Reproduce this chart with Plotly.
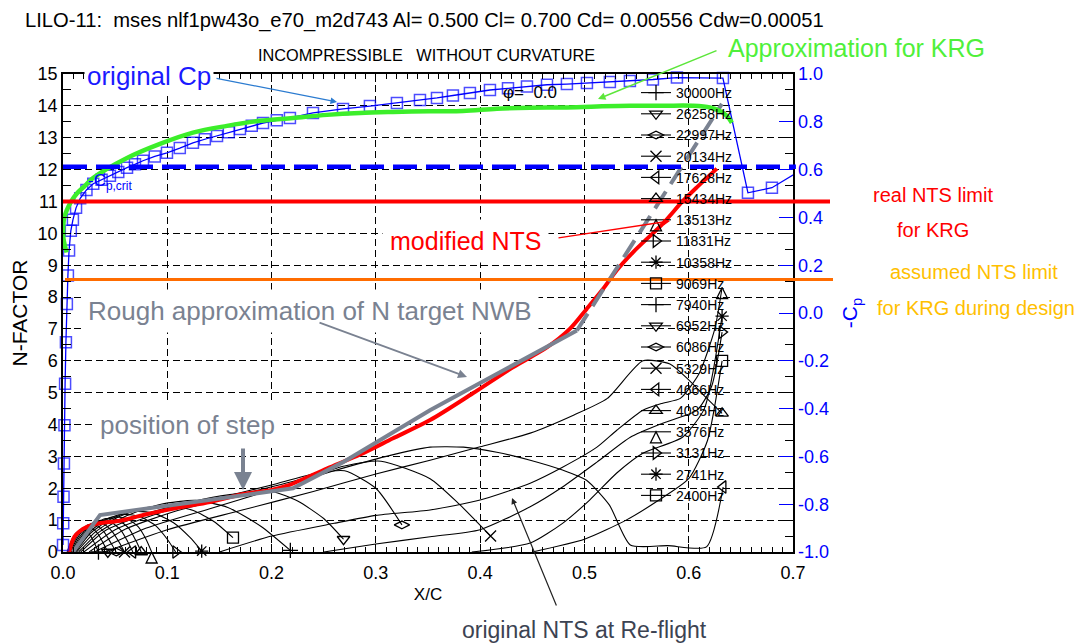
import plotly.graph_objects as go

# ---------------- data ----------------
X_RANGE = [0.0, 0.7]
N_RANGE = [0.0, 15.0]
CP_RANGE = [-1.0, 1.0]

x_tickvals = [0.0, 0.1, 0.2, 0.3, 0.4, 0.5, 0.6, 0.7]
x_ticktext = ["0.0", "0.1", "0.2", "0.3", "0.4", "0.5", "0.6", "0.7"]
n_tickvals = list(range(0, 16))
cp_tickvals = [-1.0, -0.8, -0.6, -0.4, -0.2, 0.0, 0.2, 0.4, 0.6, 0.8, 1.0]
cp_ticktext = ["-1.0", "-0.8", "-0.6", "-0.4", "-0.2", "0.0", "0.2", "0.4", "0.6", "0.8", "1.0"]

# original Cp (upper surface), plotted as -Cp on the right axis
cp_x = [0.0, 0.0002, 0.0005, 0.0009, 0.0014, 0.002, 0.0028, 0.0037, 0.0047, 0.0058, 0.0075, 0.0095,
        0.0125, 0.0165, 0.0225, 0.029, 0.037, 0.045, 0.053, 0.0614, 0.069, 0.0767, 0.088, 0.0997,
        0.112, 0.1246, 0.136, 0.1477, 0.159, 0.1697, 0.181, 0.1918, 0.205, 0.2176, 0.2397, 0.2685,
        0.2943, 0.3202, 0.3423, 0.3586, 0.3739, 0.3902, 0.4094, 0.4267, 0.4449, 0.4641, 0.4832,
        0.5024, 0.5244, 0.5436, 0.5657, 0.5887, 0.6328, 0.6568, 0.6798, 0.705]
cp_mcp = [-0.971, -0.880, -0.769, -0.630, -0.470, -0.296, -0.122, 0.038, 0.157, 0.261, 0.344, 0.39,
          0.44, 0.48, 0.515, 0.541, 0.558, 0.574, 0.59, 0.608, 0.622, 0.637, 0.655, 0.670,
          0.69, 0.712, 0.727, 0.741, 0.756, 0.770, 0.783, 0.795, 0.806, 0.816, 0.837, 0.854,
          0.866, 0.879, 0.891, 0.900, 0.91, 0.921, 0.933, 0.940, 0.948, 0.955, 0.958,
          0.962, 0.967, 0.971, 0.977, 0.985, 0.983, 0.503, 0.524, 0.59]
cp_crit = 0.612

# approximation for KRG (-Cp)
krg_x = [0.0035, 0.0005, 0.0002, 0.001, 0.0035, 0.0077, 0.0131, 0.021, 0.0288, 0.0614, 0.093,
         0.1246, 0.1572, 0.1889, 0.2205, 0.2531, 0.2848, 0.3164, 0.3519, 0.3835, 0.4161, 0.4477,
         0.4794, 0.512, 0.5436, 0.5753, 0.604, 0.6203, 0.6299, 0.6366, 0.6414]
krg_mcp = [0.253, 0.311, 0.353, 0.395, 0.428, 0.466, 0.499, 0.532, 0.565, 0.649, 0.708,
           0.755, 0.783, 0.804, 0.816, 0.829, 0.837, 0.841, 0.844, 0.845, 0.855, 0.859,
           0.86, 0.864, 0.867, 0.867, 0.867, 0.86, 0.845, 0.825, 0.796]

# modified NTS (N-factor)
mod_x = [0.006, 0.008, 0.011, 0.016, 0.023, 0.035, 0.055, 0.077, 0.109, 0.141, 0.173, 0.199,
         0.215, 0.227, 0.253, 0.285, 0.316, 0.352, 0.393, 0.431, 0.464, 0.486, 0.502, 0.518,
         0.531, 0.547, 0.575, 0.594, 0.608, 0.627]
mod_n = [0.0, 0.25, 0.48, 0.65, 0.79, 0.9, 0.98, 1.16, 1.38, 1.57, 1.82, 1.94,
         2.08, 2.24, 2.62, 3.06, 3.56, 4.14, 4.98, 5.79, 6.42, 7.0, 7.62, 8.26,
         8.84, 9.42, 10.30, 11.0, 11.45, 12.03]

# rough approximation of N target NWB
nwb_x = [0.0096, 0.0355, 0.2205, 0.2685, 0.3519, 0.4928]
nwb_n = [0.0, 1.16, 2.0, 2.82, 4.45, 6.95]
nwb_ext_x = [0.4928, 0.6318]
nwb_ext_n = [6.95, 14.06]

# NTS limits
real_limit_n = 11.0
assumed_limit_n = 8.55

# original NTS N-factor curves at flight Reynolds number
freq_labels = ["30000Hz", "26258Hz", "22997Hz", "20134Hz", "17628Hz", "15434Hz", "13513Hz",
               "11831Hz", "10358Hz", "9069Hz", "7940Hz", "6952Hz", "6086Hz", "5329Hz",
               "4666Hz", "4085Hz", "3576Hz", "3131Hz", "2741Hz", "2400Hz"]
freq_symbols = ["cross-thin-open", "triangle-down-open", "diamond-wide-open", "x-thin-open",
                "triangle-left-open", "triangle-up-open", "arrow-up-open", "triangle-right-open",
                "asterisk-open", "square-open"] * 2
nts_x = [
    [0.004, 0.008, 0.012, 0.017, 0.022, 0.027, 0.031, 0.034],
    [0.005, 0.010, 0.015, 0.021, 0.028, 0.034, 0.039, 0.043],
    [0.006, 0.012, 0.018, 0.025, 0.033, 0.040, 0.046, 0.051],
    [0.007, 0.014, 0.021, 0.030, 0.039, 0.047, 0.054, 0.059],
    [0.008, 0.016, 0.025, 0.035, 0.046, 0.055, 0.062, 0.067],
    [0.009, 0.018, 0.029, 0.041, 0.053, 0.063, 0.070, 0.075],
    [0.010, 0.020, 0.033, 0.047, 0.061, 0.072, 0.080, 0.085],
    [0.011, 0.023, 0.038, 0.055, 0.073, 0.088, 0.100, 0.108],
    [0.012, 0.026, 0.044, 0.065, 0.087, 0.106, 0.122, 0.133],
    [0.013, 0.030, 0.052, 0.078, 0.105, 0.125, 0.145, 0.163],
    [0.015, 0.035, 0.062, 0.094, 0.127, 0.158, 0.190, 0.218],
    [0.017, 0.040, 0.080, 0.120, 0.160, 0.200, 0.225, 0.250, 0.269],
    [0.020, 0.050, 0.100, 0.150, 0.200, 0.240, 0.270, 0.300, 0.325],
    [0.025, 0.060, 0.110, 0.170, 0.230, 0.270, 0.305, 0.352, 0.380, 0.410],
    [0.030, 0.080, 0.140, 0.200, 0.260, 0.310, 0.352, 0.384, 0.416, 0.448, 0.479, 0.502, 0.524,
     0.544, 0.580, 0.617, 0.633],
    [0.040, 0.100, 0.170, 0.240, 0.300, 0.352, 0.400, 0.448, 0.490, 0.522, 0.556, 0.582, 0.600,
     0.615, 0.632],
    [0.150, 0.200, 0.260, 0.300, 0.352, 0.400, 0.448, 0.479, 0.512, 0.531, 0.556, 0.575, 0.592,
     0.610, 0.625, 0.632],
    [0.250, 0.300, 0.352, 0.400, 0.448, 0.479, 0.512, 0.544, 0.575, 0.608, 0.622, 0.632],
    [0.392, 0.448, 0.479, 0.505, 0.531, 0.556, 0.594, 0.615, 0.632],
    [0.450, 0.500, 0.540, 0.570, 0.600, 0.618, 0.632],
]
nts_n = [
    [0.0, 0.35, 0.58, 0.70, 0.66, 0.48, 0.22, 0.0],
    [0.0, 0.40, 0.65, 0.78, 0.74, 0.55, 0.25, 0.0],
    [0.0, 0.42, 0.70, 0.86, 0.82, 0.60, 0.28, 0.0],
    [0.0, 0.45, 0.75, 0.93, 0.88, 0.65, 0.30, 0.0],
    [0.0, 0.48, 0.80, 0.99, 0.94, 0.70, 0.33, 0.0],
    [0.0, 0.50, 0.85, 1.05, 1.00, 0.75, 0.35, 0.0],
    [0.0, 0.52, 0.90, 1.10, 1.05, 0.80, 0.38, 0.0],
    [0.0, 0.55, 0.95, 1.18, 1.12, 0.85, 0.40, 0.0],
    [0.0, 0.58, 1.00, 1.27, 1.22, 0.92, 0.45, 0.03],
    [0.0, 0.60, 1.08, 1.38, 1.45, 1.30, 0.95, 0.45],
    [0.0, 0.63, 1.15, 1.50, 1.62, 1.40, 0.80, 0.05],
    [0.0, 0.66, 1.20, 1.55, 1.80, 1.90, 1.60, 1.05, 0.40],
    [0.0, 0.70, 1.30, 1.70, 2.10, 2.45, 2.55, 2.00, 0.85],
    [0.0, 0.72, 1.30, 1.80, 2.30, 2.70, 2.85, 2.30, 1.50, 0.50],
    [0.0, 0.75, 1.35, 1.95, 2.55, 3.00, 3.29, 3.29, 3.13, 2.88, 2.57, 2.25, 1.47,
     0.22, 0.20, 0.16, 2.04],
    [0.0, 0.70, 1.30, 1.90, 2.45, 2.88, 3.30, 3.73, 4.30, 4.82, 6.00, 5.90, 5.40,
     4.90, 4.35],
    [0.0, 0.50, 0.90, 1.15, 1.32, 1.63, 2.16, 2.66, 3.29, 3.82, 4.45, 4.67, 4.82,
     5.60, 7.00, 8.30],
    [0.0, 0.25, 0.48, 0.70, 1.42, 2.04, 2.82, 3.60, 4.04, 4.45, 5.20, 6.90],
    [0.0, 0.28, 0.90, 1.63, 2.48, 3.10, 3.60, 4.50, 7.40],
    [0.0, 0.40, 1.00, 1.60, 2.30, 3.50, 6.00],
]

# ---------------- helpers for placing text (pixel -> paper) ----------------
L, R, T, B = 63, 793, 74, 552


def px(x):
    return (x - L) / (R - L)


def py(y):
    return (B - y) / (B - T)


BLUE = "#0000ff"
GREEN = "#3cee2a"
RED = "#ff0000"
ORANGE = "#ff6c00"
GOLD = "#ffc000"
GRAY = "#7a8291"
DARKGRAY = "#3c4352"

fig = go.Figure()

# black NTS curves
for i, lab in enumerate(freq_labels):
    fig.add_trace(go.Scatter(
        x=nts_x[i], y=nts_n[i], mode="lines",
        line=dict(color="black", width=1.1, shape="spline", smoothing=0.6),
        showlegend=False, legendgroup=lab, hoverinfo="skip"))
    fig.add_trace(go.Scatter(
        x=nts_x[i][-1:], y=nts_n[i][-1:], mode="lines+markers", name=lab, legendgroup=lab,
        line=dict(color="black", width=1.1),
        marker=dict(symbol=freq_symbols[i], size=11, color="black",
                    line=dict(color="black", width=1.3)),
        cliponaxis=False))

# modified NTS (red)
fig.add_trace(go.Scatter(x=mod_x, y=mod_n, mode="lines",
                         line=dict(color=RED, width=4, shape="spline", smoothing=0.8),
                         showlegend=False))
# rough approximation of N target NWB (gray)
fig.add_trace(go.Scatter(x=nwb_x, y=nwb_n, mode="lines", line=dict(color=GRAY, width=4),
                         showlegend=False))
fig.add_trace(go.Scatter(x=nwb_ext_x, y=nwb_ext_n, mode="lines",
                         line=dict(color=GRAY, width=4, dash="20px,9px"), showlegend=False))

# original Cp (blue, right axis)
cp_sizes = [11] * (len(cp_x) - 1) + [0]
fig.add_trace(go.Scatter(x=cp_x, y=cp_mcp, yaxis="y2", mode="lines+markers",
                         line=dict(color=BLUE, width=1.3),
                         marker=dict(symbol="square-open", size=cp_sizes, color=BLUE,
                                     line=dict(color=BLUE, width=1.5)),
                         cliponaxis=False, showlegend=False))
# approximation for KRG (green)
fig.add_trace(go.Scatter(x=krg_x, y=krg_mcp, yaxis="y2", mode="lines",
                         line=dict(color=GREEN, width=4.5, shape="spline"), showlegend=False))

# horizontal limit lines
shapes = [
    dict(type="line", xref="paper", yref="y2", x0=0, x1=1.004, y0=cp_crit, y1=cp_crit,
         line=dict(color=BLUE, width=4.5, dash="24px,9px")),
    dict(type="line", xref="paper", yref="y", x0=0, x1=px(830), y0=real_limit_n, y1=real_limit_n,
         line=dict(color=RED, width=4)),
    dict(type="line", xref="paper", yref="y", x0=px(65), x1=px(833), y0=assumed_limit_n,
         y1=assumed_limit_n, line=dict(color=ORANGE, width=3)),
]

ann = []


def text(x, y, s, size, color, xanchor="left", bg=None, pad=1):
    d = dict(x=px(x - pad - 1), y=py(y), xref="paper", yref="paper", text=s, showarrow=False,
             xanchor=xanchor, yanchor="middle", borderpad=pad,
             font=dict(size=size, color=color, family="Liberation Sans, Arial"))
    if bg:
        d["bgcolor"] = bg
    ann.append(d)


def arrow(hx, hy, tx, ty, color, width, head=2, size=1.0):
    ann.append(dict(x=px(hx), y=py(hy), xref="paper", yref="paper", text="", showarrow=True,
                    ax=tx - hx, ay=ty - hy, arrowcolor=color, arrowwidth=width,
                    arrowhead=head, arrowsize=size, standoff=0, startstandoff=0))


text(25, 20, "LILO-11:  mses nlf1pw43o_e70_m2d743 Al= 0.500 Cl= 0.700 Cd= 0.00556 Cdw=0.00051",
     20.2, "black")
text(258, 55, "INCOMPRESSIBLE   WITHOUT CURVATURE", 16.3, "black")
text(87, 76, "original Cp", 26, "#1a1aff", bg="white", pad=2)
text(728, 48, "Approximation for KRG", 25, "#4ff03a")
text(390, 241, "modified NTS", 25, RED, bg="white", pad=7)
text(88, 311, "Rough approximation of N target NWB", 26, GRAY, bg="white", pad=6)
text(100, 425, "position of step", 26, GRAY, bg="white", pad=6)
text(462, 630, "original NTS at Re-flight", 23, DARKGRAY)
text(873, 195, "real NTS limit", 20, RED)
text(897, 230, "for KRG", 20, RED)
text(890, 272, "assumed NTS limit", 20, GOLD)
text(877, 308, "for KRG during design", 20, GOLD)
text(503, 92, "\u03c6=  0.0", 17, "black")
text(88, 182, "-C<sub>p,crit</sub>", 17, BLUE)

arrow(337, 102, 215, 78, "#2b7bd0", 1.3)
arrow(598, 99, 718, 50, "#5ce63a", 1.5)
arrow(670, 221, 557, 238, RED, 1.3)
arrow(467, 377, 318, 322, GRAY, 1.8)
arrow(243, 490, 243, 447, GRAY, 4, head=2, size=0.9)
arrow(512, 498, 557, 607, "#222222", 1.2)

axis_common = dict(showline=True, linecolor="black", linewidth=1.5, ticks="inside",
                   tickcolor="black", tickwidth=1, zeroline=False, showgrid=True,
                   gridcolor="black", gridwidth=1, griddash="7px,4px",
                   tickfont=dict(size=18, color="black"))

fig.update_layout(
    width=1078, height=644,
    margin=dict(l=L, r=1078 - R, t=T, b=644 - B),
    paper_bgcolor="white", plot_bgcolor="white",
    font=dict(family="Liberation Sans, Arial", color="black"),
    xaxis=dict(range=X_RANGE, tickvals=x_tickvals, ticktext=x_ticktext, ticklen=8,
               mirror="ticks", ticklabelstandoff=4,
               minor=dict(dtick=0.01, tick0=0, ticks="inside", ticklen=5, tickcolor="black",
                          showgrid=False),
               title=dict(text="X/C", font=dict(size=17), standoff=6),
               **axis_common),
    yaxis=dict(range=N_RANGE, tickvals=n_tickvals, ticklen=8, mirror="ticks",
               minor=dict(dtick=0.5, tick0=0, ticks="inside", ticklen=8, tickcolor="black",
                          showgrid=False),
               title=dict(text="N-FACTOR", font=dict(size=21), standoff=4),
               **axis_common),
    yaxis2=dict(range=CP_RANGE, overlaying="y", side="right", tickvals=cp_tickvals,
                ticktext=cp_ticktext, ticks="inside", ticklen=14, tickcolor=BLUE, tickwidth=1.2,
                showgrid=False, zeroline=False, showline=False, ticklabelstandoff=4,
                tickfont=dict(size=18, color=BLUE),
                title=dict(text="-C<sub>p</sub>", font=dict(size=21, color=BLUE), standoff=14)),
    legend=dict(x=px(636), y=py(77), xanchor="left", yanchor="top", bgcolor="rgba(0,0,0,0)",
                font=dict(size=14, color="black"), tracegroupgap=0, borderwidth=0),
    shapes=shapes,
    annotations=ann,
    showlegend=True,
)

fig.write_html("out.html")
